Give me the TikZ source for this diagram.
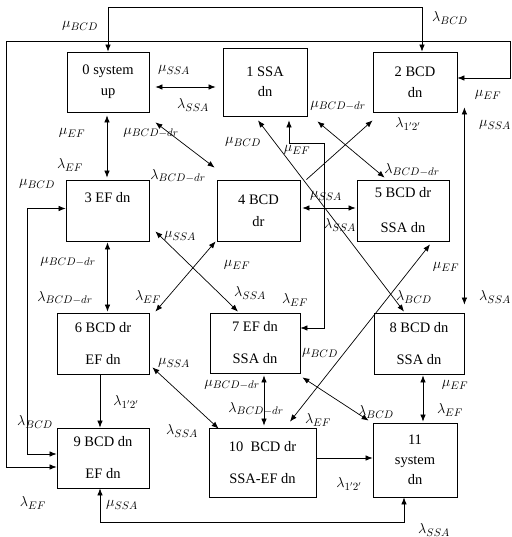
\documentclass[tikz,border=0pt]{standalone}
\usepackage{fontspec}
\setmainfont{Liberation Serif}
\usepackage{tikz}
\usetikzlibrary{arrows.meta, positioning}

\tikzset{
    statebox/.style={draw, rectangle, line width=0.8pt, inner sep=0pt, align=center,
        font=\fontsize{14.5}{16}\selectfont},
    rate/.style={inner sep=0pt, font=\fontsize{15}{17}\selectfont},
    link/.style={line width=0.7pt, >={Latex[length=7pt, width=5.5pt]}},
}

\begin{document}
\begin{tikzpicture}[x=1pt, y=-1pt]
    \useasboundingbox (0,0) rectangle (511,537);
    % states
    \foreach \n/\x/\y/\w/\h/\txt in {
        0/108/82/82/60/{0 system\\[5pt]up}, 1/265/82/84/68/{1 SSA\\[4pt]dn},
        2/415/82/84/60/{2 BCD\\[5pt]dn}, 3/107.5/210.5/83/61/{3 EF dn\\[11pt]\mbox{}},
        4/258.5/210.5/83/61/{4 BCD\\[6pt]dr}, 5/403/210.5/92/61/{5 BCD dr\\[19pt]SSA dn},
        6/103/343.5/92/61/{6 BCD dr\\[16pt]EF dn}, 7/255/343/90/60/{7 EF dn\\[16pt]SSA dn},
        8/419/343.5/90/61/{8 BCD dn\\[16pt]SSA dn}, 9/103/458/92/60/{9 BCD dn\\[16pt]EF dn},
        10/262.5/462.5/107/69/{10\ \ BCD dr\\[16pt]SSA-EF dn}, 11/415/460/84/74/{11\\[4pt]system\\[4pt]dn}} {
        \node[statebox, minimum width=\w, minimum height=\h] (b\n) at (\x,\y) {\txt};
    }
    % transitions
    \draw[link, <->] (b0.north) -- ++(0,-44) -| ([xshift=7pt]b2.north);
    \draw[link, <->] ([shift={(0,-4)}]b2.east) -- ++(53,0) -- ++(0,-37)
        -| ([shift={(-50,9)}]b9.west) -- ([shift={(0,9)}]b9.west);
    \draw[link, <->] ([shift={(0,-2)}]b3.west) -| ([shift={(-29,-4)}]b9.west)
        -- ([shift={(0,-4)}]b9.west);
    \draw[link, <->] ([shift={(6,5)}]b0.east) -- ([shift={(-7,5)}]b1.west);
    \draw[link, <->] ([shift={(-1,3)}]b0.south) -- ([shift={(-0.5,-2)}]b3.north);
    \draw[link, <->] ([shift={(6,10)}]b0.south east) -- ([shift={(-2,-12)}]b4.north west);
    \draw[link, <->] ([shift={(-7,4)}]b1.south) -- ([shift={(-15,-1)}]b8.north);
    \draw[link, <->] ([shift={(24,4)}]b1.south) -- ++(0,23) -- ++(35,0)
        |- ([shift={(0,-15)}]b7.east);
    \draw[link, ->] ([shift={(6,0)}]b4.north east) -- ([shift={(0,8)}]b2.south west);
    \draw[link, <->] ([shift={(10,5)}]b1.south east) -- ([shift={(28,-2)}]b5.north west);
    \draw[link, <->] ([shift={(7,-5)}]b2.south east) -- ([shift={(0,-8)}]b8.north east);
    \draw[link, <->] ([shift={(2,-2.5)}]b4.east) -- ([shift={(-1,-2.5)}]b5.west);
    \draw[link, <->] ([shift={(0,1)}]b3.south) -- ([shift={(4.5,-1)}]b6.north);
    \draw[link, <->] ([shift={(6,-10)}]b3.south east) -- ([shift={(-17,-1)}]b7.north);
    \draw[link, <->] ([shift={(-1,0)}]b4.south west) -- ([shift={(6,-1)}]b6.north east);
    \draw[link, <->] ([shift={(27,3)}]b5.south) -- ([shift={(27.5,-6)}]b10.north);
    \draw[link, <->] ([shift={(2,4)}]b7.south east) -- ([shift={(-4,-2)}]b11.north west);
    \draw[link, <->] ([shift={(3,-7)}]b6.south east) -- ([shift={(10,1)}]b10.north west);
    \draw[link, ->] ([shift={(-3,0)}]b6.south) -- ([shift={(-3,0)}]b9.north);
    \draw[link, <->] ([shift={(9,2)}]b7.south) -- ([shift={(1.5,-2)}]b10.north);
    \draw[link, <->] ([shift={(4,1)}]b8.south) -- ([shift={(8,-1)}]b11.north);
    \draw[link, ->] ([shift={(0,-4.5)}]b10.east) -- ([shift={(0,-2)}]b11.west);
    \draw[link, <->] ([shift={(-3,0)}]b9.south) -- ++(0,34) -| ([shift={(-11,0)}]b11.south);
    % rates
    \foreach \n/\x/\y/\lab in {
        1/80/26/\mu_{BCD}, 2/450/18/\lambda_{BCD}, 3/174/70/\mu_{SSA}, 4/193/105/\lambda_{SSA},
        5/72/133/\mu_{EF}, 6/70/165/\lambda_{EF}, 7/151/133/\mu_{BCD-dr}, 8/178/176/\lambda_{BCD-dr},
        9/243/142/\mu_{BCD}, 10/297/150/\mu_{EF}, 11/338/106/\mu_{BCD-dr}, 12/408/124/\lambda_{1'2'},
        13/412/170/\lambda_{BCD-dr}, 14/488/95/\mu_{EF}, 15/495/125/\mu_{SSA}, 16/326/196/\mu_{SSA},
        17/340/225/\lambda_{SSA}, 18/37/184/\mu_{BCD}, 19/180/236/\mu_{SSA}, 20/68/262/\mu_{BCD-dr},
        21/65/298/\lambda_{BCD-dr}, 22/237/265/\mu_{EF}, 23/148/297/\lambda_{EF}, 24/250/293/\lambda_{SSA},
        25/295/300/\lambda_{EF}, 26/446/267/\mu_{EF}, 27/414/297/\lambda_{BCD}, 28/495/297/\lambda_{SSA},
        29/174/363/\mu_{SSA}, 30/320/353/\mu_{BCD}, 31/232/385/\mu_{BCD-dr}, 32/256/409/\lambda_{BCD-dr},
        33/126/402/\lambda_{1'2'}, 34/35/422/\lambda_{BCD}, 35/182/431/\lambda_{SSA}, 36/376/412/\lambda_{BCD},
        37/318/420/\lambda_{EF}, 38/455/385/\mu_{EF}, 39/450/410/\lambda_{EF}, 40/33/503/\lambda_{EF},
        41/122/505/\mu_{SSA}, 42/349/484/\lambda_{1'2'}, 43/434/530/\lambda_{SSA}} {
        \node[rate] (r\n) at (\x,\y) {$\lab$};
    }
\end{tikzpicture}
\end{document}
